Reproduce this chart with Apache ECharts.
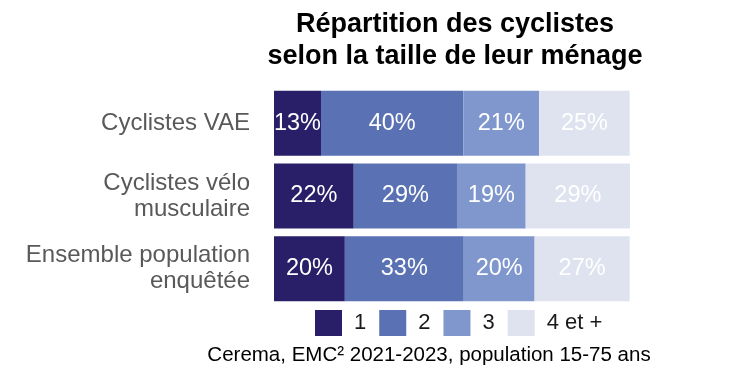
<!DOCTYPE html>
<html>
<head>
<meta charset="utf-8">
<script src="https://cdn.jsdelivr.net/npm/echarts@6/dist/echarts.min.js"></script>
<style>html,body{margin:0;padding:0;background:#fff}#c{width:732px;height:366px}</style>
</head>
<body>
<div id="c"></div>
<script>
const categories = ["Cyclistes VAE", "Cyclistes vélo\nmusculaire", "Ensemble population\nenquêtée"];
const seriesNames = ["1", "2", "3", "4 et +"];
const values1 = [13.2, 22.4, 19.9];
const values2 = [40.0, 29.0, 33.4];
const values3 = [21.3, 19.3, 19.9];
const values4 = [25.4, 29.3, 26.7];
const colors = ["#281f68", "#5a71b3", "#7f97cd", "#dee3ef"];
const titleText = "Répartition des cyclistes\nselon la taille de leur ménage";
const sourceText = "Cerema, EMC² 2021-2023, population 15-75 ans";

const FONT = "Liberation Sans, Arial, sans-serif";
const allValues = [values1, values2, values3, values4];
const chart = echarts.init(document.getElementById('c'));
chart.setOption({
  animation: false,
  color: colors,
  textStyle: { fontFamily: FONT },
  grid: { left: 274, right: 102, top: 87, bottom: 61, containLabel: false },
  xAxis: { type: 'value', min: 0, max: 100, show: false },
  yAxis: {
    type: 'category', data: categories, inverse: true,
    axisLine: { show: false }, axisTick: { show: false },
    axisLabel: { fontSize: 24, color: '#595959', lineHeight: 26, margin: 24, fontFamily: FONT, align: 'right' }
  },
  legend: {
    data: seriesNames, left: 310, top: 305, itemWidth: 27, itemHeight: 26, itemGap: 13,
    icon: 'rect',
    textStyle: { fontSize: 22, color: '#1a1a1a', fontFamily: FONT, padding: [0, 0, 0, 7] }
  },
  graphic: [
    { type: 'text', style: { x: 455, y: 9, text: titleText, align: 'center', verticalAlign: 'top', font: 'bold 27px ' + FONT, lineHeight: 32, fill: '#000' } },
    { type: 'text', style: { x: 429, y: 355, text: sourceText, align: 'center', verticalAlign: 'middle', font: '20.5px ' + FONT, fill: '#000' } }
  ],
  series: seriesNames.map((n, i) => ({
    name: n, type: 'bar', stack: 'total', barWidth: 65,
    data: allValues[i],
    label: { show: true, position: 'inside', color: '#fff', fontSize: 23.5, fontFamily: FONT,
      formatter: p => Math.round(p.value) + '%' }
  }))
});
</script>
</body>
</html>
